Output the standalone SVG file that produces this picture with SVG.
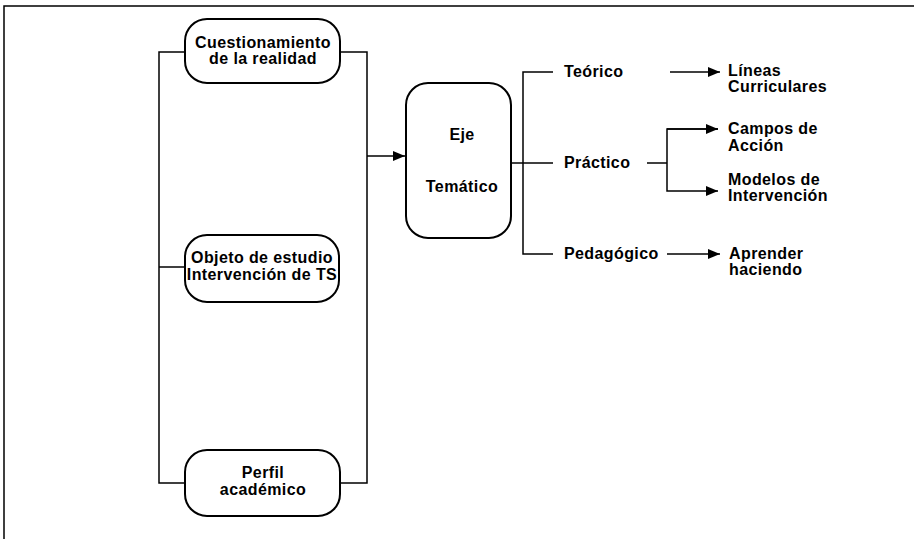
<svg xmlns="http://www.w3.org/2000/svg" width="914" height="539" viewBox="0 0 914 539">
<style>
.box{fill:#fff;stroke:#000;stroke-width:2}
.ln{fill:none;stroke:#000;stroke-width:1.5}
text{font-family:"Liberation Sans",Arial,sans-serif;font-weight:bold;font-size:16px;letter-spacing:0.4px;fill:#000}
.c{text-anchor:middle}
</style>
<defs>
<marker id="ah" viewBox="0 0 12 10" refX="12" refY="5" markerWidth="12" markerHeight="10" markerUnits="userSpaceOnUse" orient="auto">
<path d="M0,0 L12,5 L0,10 Z" fill="#000"/>
</marker>
</defs>
<rect width="914" height="539" fill="#fff"/>
<g id="frame">
<path class="ln" d="M4,539 V6 H914"/>
</g>
<g id="connectors">
<path class="ln" d="M185,52 H159 V483 H185"/>
<path class="ln" d="M159,267 H185"/>
<path class="ln" d="M340,52 H367 V483 H340"/>
<path class="ln" d="M367,156 H405" marker-end="url(#ah)"/>
<path class="ln" d="M511,163 H553"/>
<path class="ln" d="M553,72 H523 V254 H553"/>
<path class="ln" d="M670,72 H720" marker-end="url(#ah)"/>
<path class="ln" d="M647,163 H667"/>
<path class="ln" d="M718,129 H667 V191 H718" marker-end="url(#ah)"/>
<path class="ln" d="M667,129 H718" marker-end="url(#ah)"/>
<path class="ln" d="M667,254 H720" marker-end="url(#ah)"/>
</g>
<g id="n-cuestionamiento">
<rect class="box" x="185" y="19" width="155" height="64" rx="22"/>
<text class="c" x="263" y="48">Cuestionamiento</text>
<text class="c" x="263" y="64">de la realidad</text>
</g>
<g id="n-objeto">
<rect class="box" x="185" y="235" width="154" height="67" rx="22"/>
<text class="c" x="262" y="263">Objeto de estudio</text>
<text class="c" x="262" y="280">Intervención de TS</text>
</g>
<g id="n-perfil">
<rect class="box" x="185" y="450" width="155" height="66" rx="22"/>
<text class="c" x="263" y="478">Perfil</text>
<text class="c" x="263" y="495">académico</text>
</g>
<g id="n-eje">
<rect class="box" x="406" y="83" width="105" height="155" rx="22"/>
<text class="c" x="462" y="140">Eje</text>
<text class="c" x="462" y="192">Temático</text>
</g>
<g id="n-teorico"><text x="564" y="77">Teórico</text></g>
<g id="n-practico"><text x="564" y="168">Práctico</text></g>
<g id="n-pedagogico"><text x="564" y="259">Pedagógico</text></g>
<g id="n-lineas">
<text x="728" y="76">Líneas</text>
<text x="728" y="92">Curriculares</text>
</g>
<g id="n-campos">
<text x="728" y="134">Campos de</text>
<text x="728" y="151">Acción</text>
</g>
<g id="n-modelos">
<text x="728" y="185">Modelos de</text>
<text x="728" y="201">Intervención</text>
</g>
<g id="n-aprender">
<text x="729" y="259">Aprender</text>
<text x="729" y="275">haciendo</text>
</g>
</svg>
